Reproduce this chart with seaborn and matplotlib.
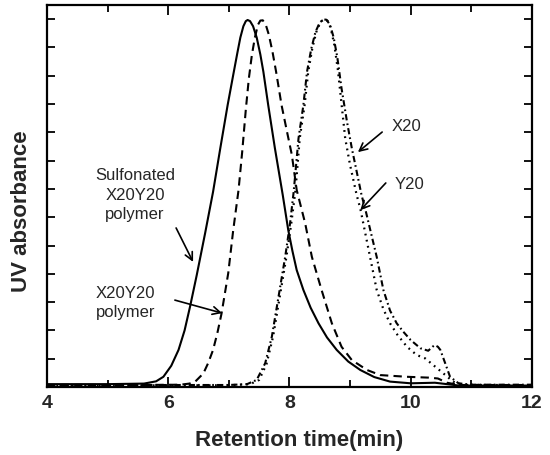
import numpy as np
import pandas as pd
import matplotlib
matplotlib.use("Agg")
import matplotlib.pyplot as plt
import seaborn as sns

# retention time (min) / UV absorbance (a.u.)
sulf_x = [4.0, 5.0, 5.6, 5.8, 5.92, 6.05, 6.17, 6.27, 6.36, 6.47, 6.61, 6.74, 6.86, 6.98,
          7.07, 7.14, 7.19, 7.24, 7.28, 7.31, 7.35, 7.40, 7.46, 7.52, 7.57, 7.65, 7.76,
          7.89, 7.98, 8.05, 8.12, 8.23, 8.35, 8.48, 8.62, 8.78, 8.97, 9.17, 9.40, 9.66,
          10.0, 10.4, 10.6, 10.8, 11.2, 12.0]
sulf_y = [0.1, 0.1, 0.12, 0.2, 0.36, 0.75, 1.31, 2.0, 2.84, 3.95, 5.45, 6.9, 8.45, 9.96,
          11.0, 11.8, 12.35, 12.75, 12.93, 12.97, 12.93, 12.75, 12.35, 11.75, 11.14, 9.96, 8.44,
          6.78, 5.55, 4.8, 4.13, 3.43, 2.8, 2.25, 1.75, 1.31, 0.9, 0.6, 0.35, 0.19,
          0.13, 0.15, 0.1, 0.05, 0.05, 0.05]

poly_x = [4.0, 5.5, 6.2, 6.35, 6.45, 6.58, 6.66, 6.74, 6.81, 6.88, 6.99, 7.07, 7.16, 7.22,
          7.28, 7.33, 7.38, 7.43, 7.48, 7.52, 7.56, 7.61, 7.66, 7.72, 7.78, 7.87, 7.96,
          8.04, 8.12, 8.26, 8.37, 8.53, 8.70, 8.86, 9.03, 9.28, 9.50, 9.94, 10.3, 10.45,
          10.6, 10.8, 12.0]
poly_y = [0.07, 0.07, 0.08, 0.12, 0.2, 0.48, 0.85, 1.31, 1.9, 2.6, 4.02, 5.5, 6.96, 8.3,
          9.8, 10.9, 11.73, 12.35, 12.8, 12.95, 12.96, 12.8, 12.45, 11.85, 11.14, 9.96, 9.02,
          8.2, 6.96, 5.78, 4.6, 3.43, 2.25, 1.42, 0.95, 0.6, 0.42, 0.36, 0.33, 0.3,
          0.15, 0.07, 0.07]

y20_x = [4.0, 6.0, 7.0, 7.3, 7.46, 7.60, 7.71, 7.82, 7.93, 8.01, 8.07, 8.15, 8.23, 8.29,
         8.36, 8.43, 8.50, 8.56, 8.61, 8.67, 8.73, 8.79, 8.86, 8.95, 9.03, 9.11, 9.19,
         9.25, 9.44, 9.55, 9.66, 9.77, 9.88, 10.0, 10.16, 10.29, 10.36, 10.40, 10.45,
         10.49, 10.57, 10.65, 10.79, 11.0, 12.0]
y20_y = [0.07, 0.07, 0.07, 0.1, 0.25, 0.84, 1.78, 3.19, 4.6, 5.78, 6.9, 8.79, 9.96, 11.14,
         11.95, 12.55, 12.88, 12.99, 12.98, 12.8, 12.35, 11.65, 10.55, 9.37, 8.43, 7.61, 6.78,
         6.3, 4.6, 3.43, 2.7, 2.25, 1.95, 1.66, 1.37, 1.28, 1.42, 1.48, 1.42,
         1.31, 0.84, 0.36, 0.13, 0.08, 0.08]

x20_x = [4.0, 7.0, 7.35, 7.5, 7.62, 7.73, 7.84, 7.95, 8.03, 8.10, 8.17, 8.25, 8.31, 8.38,
         8.45, 8.52, 8.58, 8.63, 8.68, 8.74, 8.80, 8.86, 8.92, 9.0, 9.11, 9.17, 9.33,
         9.44, 9.55, 9.66, 9.78, 9.94, 10.10, 10.24, 10.37, 10.54, 10.70, 10.85, 12.0]
x20_y = [0.05, 0.06, 0.1, 0.25, 0.8, 1.78, 3.19, 4.6, 5.78, 6.96, 8.79, 9.96, 11.14, 12.0,
         12.6, 12.92, 13.0, 12.94, 12.7, 12.1, 11.2, 10.0, 8.79, 7.85, 6.78, 6.3, 4.6,
         3.43, 2.75, 2.25, 1.85, 1.42, 1.13, 1.01, 0.78, 0.48, 0.19, 0.08, 0.06]

sns.set_theme(style="ticks")
plt.rcParams['font.family'] = ['Liberation Sans', 'DejaVu Sans']

fig = plt.figure(figsize=(5.5, 4.55), dpi=100)
ax = fig.add_axes([0.0855, 0.1495, 0.8815, 0.8395])

sns.lineplot(x=sulf_x, y=sulf_y, ax=ax, color='black', lw=1.5, sort=False, estimator=None)
sns.lineplot(x=poly_x, y=poly_y, ax=ax, color='black', lw=1.5, sort=False, estimator=None,
             linestyle=(0, (4, 2.5)))
sns.lineplot(x=y20_x, y=y20_y, ax=ax, color='black', lw=1.5, sort=False, estimator=None,
             linestyle=(0, (3, 1.5, 0.8, 1.5)))
sns.lineplot(x=x20_x, y=x20_y, ax=ax, color='black', lw=1.6, sort=False, estimator=None,
             linestyle=(0, (0.8, 2.0)))

ax.set_xlim(4, 12)
ax.set_ylim(0, 13.5)
ax.set_xticks([4, 6, 8, 10, 12])
ax.set_xticks([5, 7, 9, 11], minor=True)
ax.set_yticks(np.arange(1, 14))
ax.set_yticklabels([])
ax.tick_params(axis='both', which='both', direction='in', top=True, right=True,
               width=1.3, color='black')
ax.tick_params(axis='x', which='major', length=7, pad=6, labelsize=14)
ax.tick_params(axis='x', which='minor', length=5)
ax.tick_params(axis='y', length=6)
for lab in ax.get_xticklabels():
    lab.set_fontweight('bold')
for sp in ax.spines.values():
    sp.set_linewidth(1.6)
    sp.set_color('black')

ax.set_xlabel('Retention time(min)', fontsize=16, fontweight='bold')
ax.set_ylabel('UV absorbance', fontsize=16, fontweight='bold')
ax.xaxis.set_label_coords(0.52, -0.112)
ax.yaxis.set_label_coords(-0.03, 0.46)

arrow = dict(arrowstyle='->', color='black', lw=1.2, mutation_scale=14,
             shrinkA=0, shrinkB=0)
ax.text(5.45, 6.78, 'Sulfonated\nX20Y20\npolymer', ha='center', va='center',
        fontsize=12, linespacing=1.4)
ax.annotate('', xy=(6.41, 4.42), xytext=(6.13, 5.62), arrowprops=arrow)
ax.text(5.29, 2.97, 'X20Y20\npolymer', ha='center', va='center', fontsize=12,
        linespacing=1.3)
ax.annotate('', xy=(6.89, 2.61), xytext=(6.11, 3.07), arrowprops=arrow)
ax.text(9.69, 9.22, 'X20', ha='left', va='center', fontsize=12)
ax.annotate('', xy=(9.13, 8.30), xytext=(9.53, 9.01), arrowprops=arrow)
ax.text(9.74, 7.14, 'Y20', ha='left', va='center', fontsize=12)
ax.annotate('', xy=(9.17, 6.25), xytext=(9.59, 7.21), arrowprops=arrow)

fig.savefig('out.png', dpi=100)
